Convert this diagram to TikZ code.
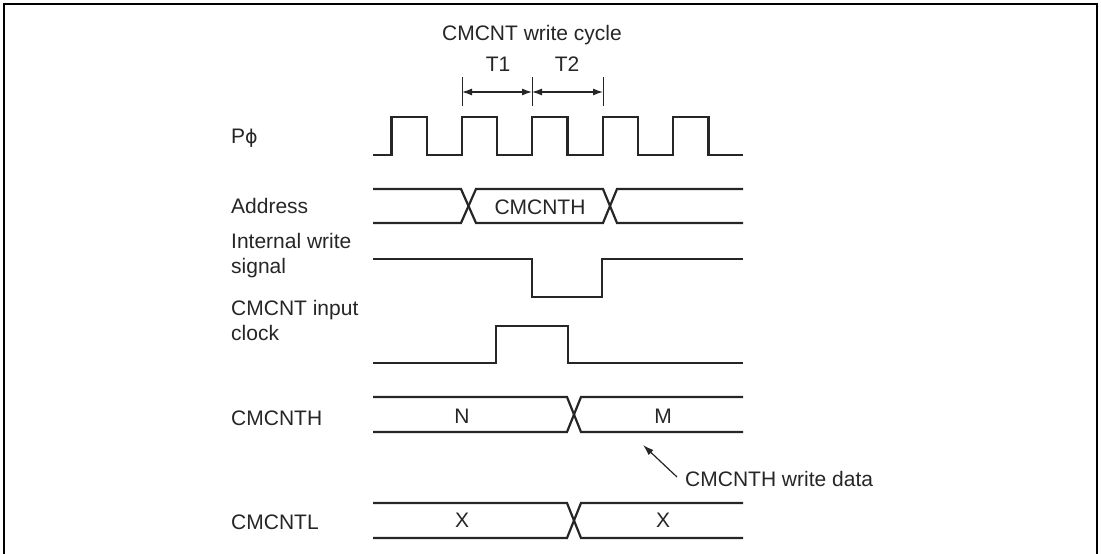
\documentclass[tikz,border=0pt]{standalone}
\usepackage{fontspec}
\setmainfont{Liberation Sans}
\newfontfamily\dvsans{DejaVu Sans}
\usetikzlibrary{arrows.meta}
\begin{document}
\begin{tikzpicture}[x=1pt,y=-1pt,
  lbl/.style={anchor=base west,inner sep=0pt,font=\fontsize{21}{25}\selectfont,text=black!85,align=left},
  ctr/.style={anchor=base,inner sep=0pt,font=\fontsize{21}{25}\selectfont,text=black!85},
  wave/.style={line width=2.2pt,black!85,line join=miter},
  tick/.style={line width=0.9pt,black!85},
  dim/.style={line width=1.2pt,black!85,{Latex[length=10pt,width=7pt]}-{Latex[length=10pt,width=7pt]}},
  frame/.style={line width=2.8pt,black}]
\useasboundingbox (0,0) rectangle (1101,554);
% frame
\draw[frame] (4,560) -- (4,4) -- (1097,4) -- (1097,560);
% labels
\node[lbl] (lphi) at (231,143) {P{\dvsans\fontsize{19}{25}\selectfont ϕ}};
\node[lbl] (laddr) at (231,213) {Address};
\node[lbl] (lint) at (231,273) {Internal write\\signal};
\node[lbl] (lclk) at (231,340) {CMCNT input\\clock};
\node[lbl] (lcnth) at (231,425) {CMCNTH};
\node[lbl] (lcntl) at (231,529) {CMCNTL};
% title and T marks
\node[ctr] (title) at (532,40) {CMCNT write cycle};
\node[ctr] (t1) at (498,71) {T1};
\node[ctr] (t2) at (567,71) {T2};
\coordinate (m1) at (462,92);
\coordinate (m2) at (532,92);
\coordinate (m3) at (603,92);
\foreach \x in {462,532,603} \draw[tick] (\x,77) -- (\x,106);
\draw[dim] (m1) -- (m2);
\draw[dim] (m2) -- (m3);
% clock
\draw[wave] (373,155) -- (391.5,155) -- (391.5,117) -- (427,117) -- (427,155)
  -- (462,155) -- (462,117) -- (497,117) -- (497,155)
  -- (532,155) -- (532,117) -- (567.5,117) -- (567.5,155)
  -- (603,155) -- (603,117) -- (638,117) -- (638,155)
  -- (673,155) -- (673,117) -- (708.5,117) -- (708.5,155) -- (743,155);
% address bus
\draw[wave] (373,189) -- (461,189) -- (476,223) -- (603,223) -- (617,189) -- (743,189);
\draw[wave] (373,223) -- (461,223) -- (476,189) -- (603,189) -- (617,223) -- (743,223);
\node[ctr] (addrv) at (540,214) {CMCNTH};
% internal write signal
\draw[wave] (373,259) -- (532,259) -- (532,297) -- (602,297) -- (602,259) -- (743,259);
% CMCNT input clock
\draw[wave] (373,363) -- (496,363) -- (496,326) -- (568,326) -- (568,363) -- (743,363);
% CMCNTH bus
\draw[wave] (373,397) -- (567,397) -- (581,432) -- (743,432);
\draw[wave] (373,432) -- (567,432) -- (581,397) -- (743,397);
\node[ctr] (nval) at (462,423) {N};
\node[ctr] (mval) at (663,423) {M};
% CMCNTL bus
\draw[wave] (373,503) -- (567,503) -- (581,538) -- (743,538);
\draw[wave] (373,538) -- (567,538) -- (581,503) -- (743,503);
\node[ctr] (xl) at (462,527) {X};
\node[ctr] (xr) at (663,527) {X};
% write data annotation
\node[lbl] (wd) at (685,486) {CMCNTH write data};
\coordinate (wdstart) at (677,477);
\coordinate (wdtip) at (643,445);
\draw[line width=1.2pt,black!85,-{Latex[length=11pt,width=7pt]}] (wdstart) -- (wdtip);
\end{tikzpicture}
\end{document}
